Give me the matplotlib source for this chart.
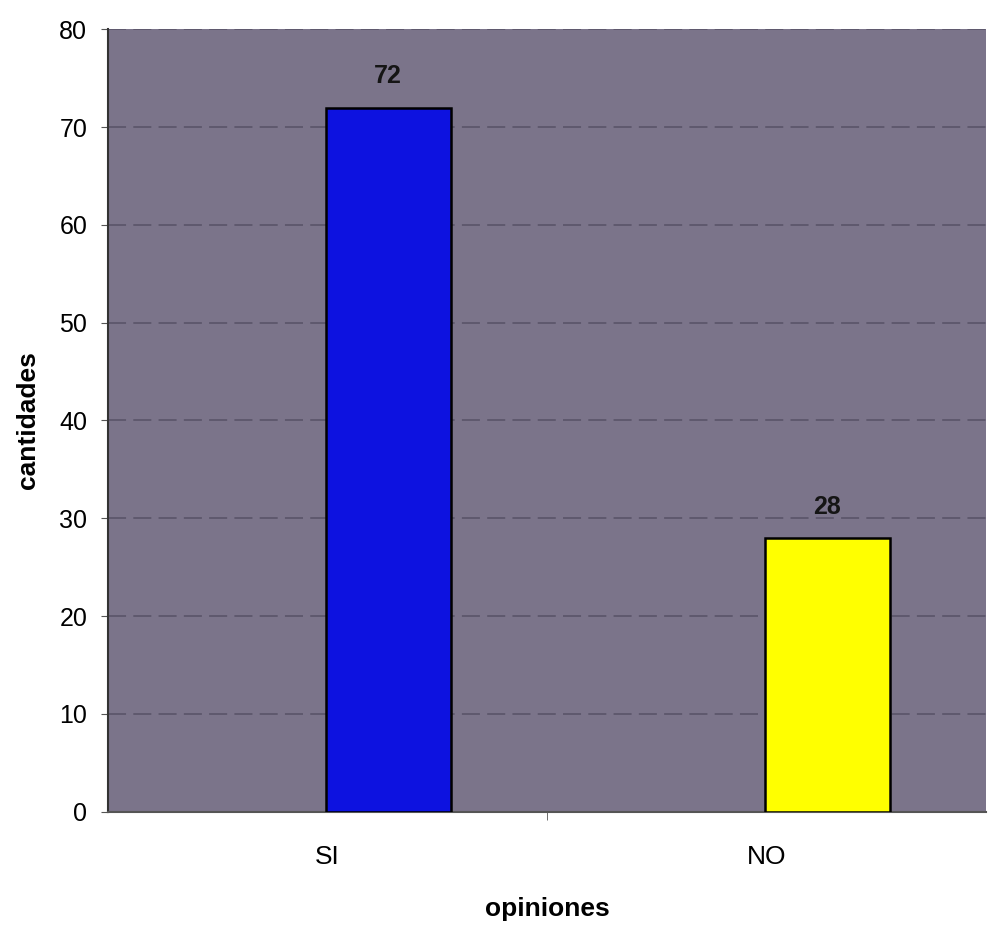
import matplotlib.pyplot as plt
import numpy as np

plt.rcParams['font.family'] = ['Liberation Sans', 'DejaVu Sans']

categorias = ['SI', 'NO']
cantidades = [72, 28]
colores = ['#0d12e0', '#ffff00']

fig = plt.figure(figsize=(9.91, 9.46), dpi=100)
ax = fig.add_axes([0.109, 0.142, 0.886, 0.827])
ax.set_facecolor('#7b748a')

x = np.arange(len(categorias))
offset = 0.138
bars = ax.bar(x + offset, cantidades, width=0.285, color=colores,
              edgecolor='black', linewidth=1.8, zorder=3)

for bar, v in zip(bars, cantidades):
    ax.text(bar.get_x() + bar.get_width() / 2, v + 3.2, f'{v}',
            ha='center', va='center', fontsize=18, fontweight='bold', color='#151515')

ax.set_xlim(-0.5, 1.5)
ax.set_ylim(0, 80)
ax.set_yticks(np.arange(0, 81, 10))
ax.set_xticks(x)
ax.set_xticklabels(categorias)
ax.set_xticks([0.5], minor=True)
ax.tick_params(axis='x', which='major', length=0, labelsize=19, pad=24)
ax.tick_params(axis='x', which='minor', length=6, color='#555555')
ax.tick_params(axis='y', length=5, labelsize=18, color='#555555', pad=10)

ax.yaxis.grid(True, color='#5d576c', linewidth=1.3, linestyle=(0, (10, 4)), zorder=1)
for s in ['top', 'right']:
    ax.spines[s].set_visible(False)
ax.spines['left'].set_color('#333333')
ax.spines['left'].set_linewidth(1.5)
ax.spines['bottom'].set_color('#555555')
ax.spines['bottom'].set_linewidth(1.5)

ax.set_ylabel('cantidades', fontsize=19, fontweight='bold', labelpad=14)
ax.set_xlabel('opiniones', fontsize=19, fontweight='bold', labelpad=20)

fig.savefig('out.png', dpi=100, facecolor='white')
